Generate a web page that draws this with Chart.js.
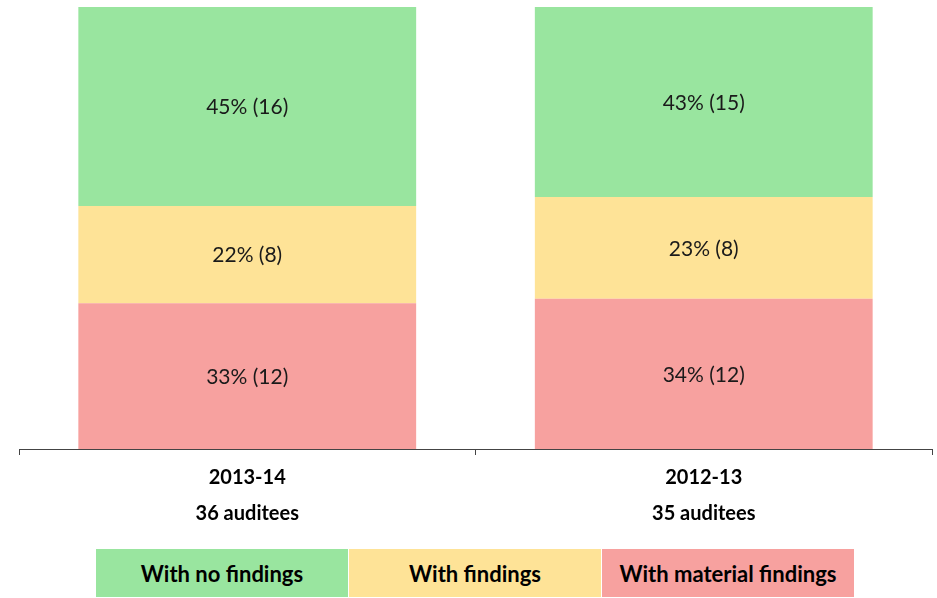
<!DOCTYPE html>
<html>
<head>
<meta charset="utf-8">
<script src="https://cdn.jsdelivr.net/npm/chart.js@4.4.1/dist/chart.umd.min.js"></script>
<style>
  html, body { margin: 0; padding: 0; background: #fff; }
  #wrap { position: relative; width: 937px; height: 598px; }
  #legend { position: absolute; left: 96px; top: 549px; display: flex; }
  #legend div {
    width: 253px; height: 48px; text-align: center;
    font: bold 22px Lato, 'Open Sans', sans-serif; line-height: 50px; color: #000;
    box-sizing: border-box; border-right: 1px solid #fff;
  }
</style>
</head>
<body>
<div id="wrap">
  <canvas id="chart" width="937" height="598"></canvas>
  <div id="legend"></div>
</div>
<script>
const years = ['2013-14', '2012-13'];
const auditees = ['36 auditees', '35 auditees'];
const seriesNames = ['With material findings', 'With findings', 'With no findings'];
const materialPct = [33, 34];
const findingsPct = [22, 23];
const noFindingsPct = [45, 43];
const materialCount = [12, 12];
const findingsCount = [8, 8];
const noFindingsCount = [16, 15];
const colors = ['#F7A19F', '#FEE397', '#99E59F'];

const ctx = document.getElementById('chart').getContext('2d');

const segmentLabels = {
    id: 'segmentLabels',
    afterDatasetsDraw(chart) {
        const c = chart.ctx;
        c.save();
        c.font = '21px Lato, "Open Sans", sans-serif';
        c.fillStyle = '#1a1a1a';
        c.textAlign = 'center';
        c.textBaseline = 'middle';
        chart.data.datasets.forEach((ds, i) => {
            chart.getDatasetMeta(i).data.forEach((bar, j) => {
                const mid = (bar.y + bar.base) / 2;
                c.fillText(ds.data[j] + '% (' + ds.counts[j] + ')', bar.x, mid + 1);
            });
        });
        c.restore();
    }
};

const data = {
    labels: years.map((y, i) => [y, auditees[i]]),
    datasets: [
        { label: seriesNames[0], data: materialPct, counts: materialCount, backgroundColor: colors[0] },
        { label: seriesNames[1], data: findingsPct, counts: findingsCount, backgroundColor: colors[1] },
        { label: seriesNames[2], data: noFindingsPct, counts: noFindingsCount, backgroundColor: colors[2] },
    ],
};

const myChart = new Chart(ctx, {
    type: 'bar',
    data: data,
    options: {
        responsive: false,
        animation: false,
        layout: { padding: { left: 19, right: 5, top: 7, bottom: 61 } },
        datasets: { bar: { categoryPercentage: 1, barPercentage: 0.74 } },
        scales: {
            x: {
                stacked: true,
                grid: { drawOnChartArea: false, drawTicks: true, tickLength: 6, color: '#444', offset: true },
                border: { color: '#444', width: 1 },
                ticks: {
                    color: '#000',
                    padding: 5,
                    font: { family: 'Lato, "Open Sans", sans-serif', size: 20, weight: 'bold', lineHeight: 1.8 },
                },
            },
            y: { stacked: true, display: false, min: 0, max: 100 },
        },
        plugins: {
            legend: { display: false },
            tooltip: { enabled: false },
        },
    },
    plugins: [segmentLabels],
});

// legend as coloured boxes, left to right: no findings, findings, material
const legendEl = document.getElementById('legend');
[2, 1, 0].forEach(i => {
    const d = document.createElement('div');
    d.textContent = seriesNames[i];
    d.style.background = colors[i];
    legendEl.appendChild(d);
});
</script>
</body>
</html>
